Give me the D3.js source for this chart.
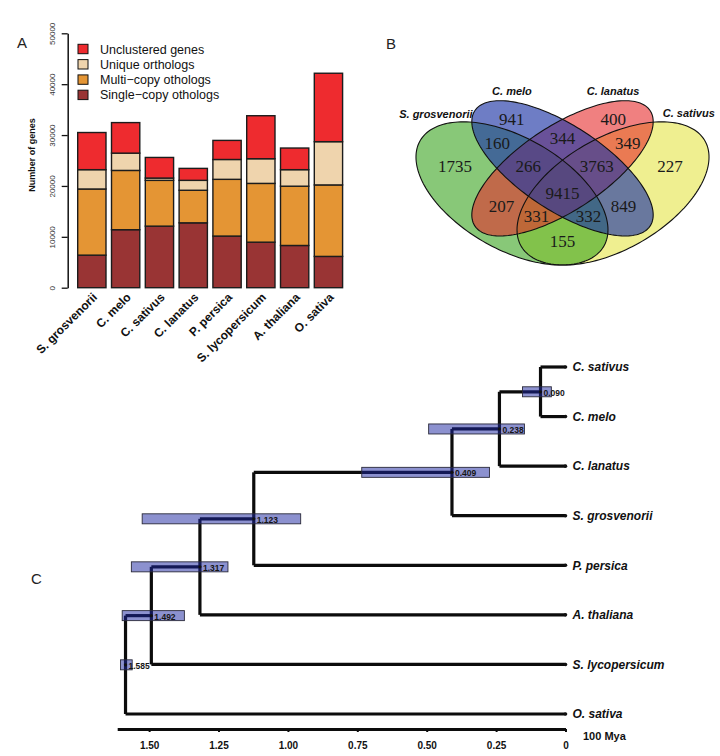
<!DOCTYPE html>
<html>
<head>
<meta charset="utf-8">
<script src="https://cdn.jsdelivr.net/npm/d3@7"></script>
<style>
body { margin: 0; background: #fff; }
svg { display: block; }
text { font-family: "Liberation Sans", Arial, sans-serif; }
</style>
</head>
<body>
<div id="mainViewDiv"></div>
<script>

// ---- panel A data ----
const species = ["S. grosvenorii", "C. melo", "C. sativus", "C. lanatus", "P. persica", "S. lycopersicum", "A. thaliana", "O. sativa"];
const singleCopy  = [6400, 11400, 12100, 12750, 10150, 8950, 8300, 6150];
const multiCopy   = [13000, 11650, 9000, 6400, 11150, 11550, 11650, 14050];
const uniqueOrth  = [3800, 3400, 450, 1950, 3900, 4850, 3250, 8500];
const unclustered = [7300, 6000, 4050, 2350, 3750, 8450, 4250, 13450];
const yTicks = [0, 10000, 20000, 30000, 40000, 50000];
const legendLabels = ["Unclustered genes", "Unique orthologs", "Multi\u2212copy othologs", "Single\u2212copy othologs"];

// ---- panel B data ----
const vennSets = ["S. grosvenorii", "C. melo", "C. lanatus", "C. sativus"];
const vennRegions = ["g", "b", "r", "y", "gb", "br", "ry", "gr", "by", "gy", "gbr", "bry", "gry", "gby", "gbry"];
const vennCounts  = [1735, 941, 400, 227, 160, 344, 349, 207, 849, 155, 266, 3763, 331, 332, 9415];

// ---- panel C data ----
const tipNames = ["C. sativus", "C. melo", "C. lanatus", "S. grosvenorii", "P. persica", "A. thaliana", "S. lycopersicum", "O. sativa"];
const nodeAges = [0.090, 0.238, 0.409, 1.123, 1.317, 1.492, 1.585];
const hpdLow   = [0.051, 0.148, 0.274, 0.954, 1.216, 1.373, 1.561];
const hpdHigh  = [0.155, 0.493, 0.734, 1.525, 1.564, 1.597, 1.603];
const ageTicks = [1.5, 1.25, 1.0, 0.75, 0.5, 0.25, 0];


let svg = d3.select("#mainViewDiv").append("svg")
            .attr("width", 720)
            .attr("height", 756);

function panelLetter(txt, x, y) {
    svg.append("text").text(txt)
       .attr("x", x).attr("y", y)
       .style("font-size", "15px")
       .attr("fill", "#222");
}

// =============== A : stacked bars ===============
function drawBars() {
    const keys = ["single", "multi", "unique", "unclustered"];
    const colors = {single: "#993434", multi: "#E49534", unique: "#EFD4AD", unclustered: "#EE2B2F"};

    let rows = species.map((s, i) => ({
        species: s, single: singleCopy[i], multi: multiCopy[i],
        unique: uniqueOrth[i], unclustered: unclustered[i]
    }));
    let stacked = d3.stack().keys(keys)(rows);

    let x = d3.scaleBand().domain(species)
              .range([74.95, 345.35])
              .paddingInner(0.163)
              .paddingOuter(0.0815);
    let y = d3.scaleLinear().domain([0, 50000]).range([287.7, 33.3]);

    let g = svg.append("g");

    g.selectAll("g.layer").data(stacked).enter()
     .append("g").attr("class", "layer")
     .attr("fill", d => colors[d.key])
     .selectAll("rect").data(d => d).enter()
     .append("rect")
     .attr("x", d => x(d.data.species))
     .attr("y", d => y(d[1]))
     .attr("width", x.bandwidth())
     .attr("height", d => y(d[0]) - y(d[1]))
     .attr("stroke", "#1c1c1c")
     .attr("stroke-width", 1.4);

    let axis = g.append("g")
                .attr("transform", "translate(67.7,0)")
                .call(d3.axisLeft(y).tickValues(yTicks).tickSize(6).tickSizeOuter(0).tickFormat(d3.format("d")));
    axis.select(".domain").attr("stroke", "#111").attr("stroke-width", 1.5);
    axis.selectAll(".tick line").attr("stroke", "#111").attr("stroke-width", 1.3);
    axis.selectAll(".tick text")
        .attr("x", 0).attr("y", 0).attr("dy", 0)
        .attr("text-anchor", "middle")
        .attr("transform", "translate(-13,0) rotate(-90)")
        .style("font-size", "8px")
        .attr("fill", "#333");

    g.append("text").text("Number of genes")
     .attr("transform", "translate(34.5,155) rotate(-90)")
     .attr("text-anchor", "middle")
     .style("font-size", "9px")
     .style("font-weight", "bold")
     .attr("fill", "#111");

    g.selectAll("text.sp").data(species).enter()
     .append("text").attr("class", "sp")
     .text(d => d)
     .attr("text-anchor", "end")
     .attr("transform", d => "translate(" + (x(d) + x.bandwidth() / 2 + 6) + ",298) rotate(-45)")
     .style("font-size", "12px")
     .style("font-weight", "bold")
     .attr("fill", "#111");

    // legend
    let legendKeys = ["unclustered", "unique", "multi", "single"];
    let leg = g.selectAll("g.leg").data(legendLabels).enter()
               .append("g").attr("class", "leg")
               .attr("transform", (d, i) => "translate(78," + (49 + i * 15.3) + ")");
    leg.append("rect")
       .attr("x", 0).attr("y", -4.7)
       .attr("width", 10).attr("height", 9.4)
       .attr("fill", (d, i) => colors[legendKeys[i]])
       .attr("stroke", "#111").attr("stroke-width", 1);
    leg.append("text").text(d => d)
       .attr("x", 22).attr("y", 4.5)
       .style("font-size", "12.5px")
       .attr("fill", "#111");

    panelLetter("A", 17, 48);
}

// =============== B : four-set Venn ===============
function drawVenn() {
    let vx = d3.scaleLinear().domain([0, 1]).range([394.1, 730.9]);
    let vy = d3.scaleLinear().domain([0, 1]).range([311.5, 60.3]);

    // ellipse layout in unit space (y up), as in VennDiagram
    let ellipses = [
        {key: "y", x: 0.65, y: 0.47, a: 0.35, b: 0.20, rot: 45,  fill: "rgb(228,228,70)",  op: 0.6},
        {key: "g", x: 0.35, y: 0.47, a: 0.35, b: 0.20, rot: -45, fill: "rgb(57,163,30)",   op: 0.6},
        {key: "r", x: 0.50, y: 0.57, a: 0.35, b: 0.15, rot: 45,  fill: "rgb(230,43,43)",   op: 0.6},
        {key: "b", x: 0.50, y: 0.57, a: 0.35, b: 0.15, rot: -45, fill: "rgb(33,55,166)",   op: 0.65}
    ];

    function ellipsePoints(e) {
        let th = e.rot * Math.PI / 180;
        return d3.range(0, 360, 2).map(deg => {
            let t = deg * Math.PI / 180;
            let u = e.x + e.a * Math.cos(t) * Math.cos(th) - e.b * Math.sin(t) * Math.sin(th);
            let v = e.y + e.a * Math.cos(t) * Math.sin(th) + e.b * Math.sin(t) * Math.cos(th);
            return [vx(u), vy(v)];
        });
    }
    let line = d3.line().curve(d3.curveLinearClosed);

    let g = svg.append("g");
    g.selectAll("path.fill").data(ellipses).enter()
     .append("path").attr("class", "fill")
     .attr("d", d => line(ellipsePoints(d)))
     .attr("fill", d => d.fill)
     .attr("fill-opacity", d => d.op)
     .attr("stroke", "none");
    g.selectAll("path.edge").data(ellipses).enter()
     .append("path").attr("class", "edge")
     .attr("d", d => line(ellipsePoints(d)))
     .attr("fill", "none")
     .attr("stroke", "#111")
     .attr("stroke-width", 1.1);

    // label spots in the same unit space
    let spot = {
        g: [0.181, 0.579], b: [0.349, 0.766], r: [0.651, 0.766], y: [0.819, 0.579],
        gb: [0.306, 0.670], br: [0.5, 0.690], ry: [0.694, 0.670],
        gr: [0.319, 0.420], by: [0.681, 0.420], gy: [0.5, 0.282],
        gbr: [0.398, 0.579], bry: [0.602, 0.579], gry: [0.423, 0.380], gby: [0.577, 0.380],
        gbry: [0.5, 0.471]
    };
    g.selectAll("text.cnt").data(vennRegions).enter()
     .append("text").attr("class", "cnt")
     .text((d, i) => vennCounts[i])
     .attr("x", d => vx(spot[d][0]))
     .attr("y", d => vy(spot[d][1]) + 6)
     .attr("text-anchor", "middle")
     .style("font-family", "'Liberation Serif', 'Times New Roman', serif")
     .style("font-size", "17px")
     .attr("fill", "#1a1a1a");

    let setLab = [
        {anchor: "end",    x: 0.233, y: 0.787},
        {anchor: "middle", x: 0.350, y: 0.876},
        {anchor: "middle", x: 0.650, y: 0.876},
        {anchor: "middle", x: 0.875, y: 0.792}
    ];
    g.selectAll("text.set").data(vennSets).enter()
     .append("text").attr("class", "set")
     .text(d => d)
     .attr("x", (d, i) => vx(setLab[i].x))
     .attr("y", (d, i) => vy(setLab[i].y) + 4)
     .attr("text-anchor", (d, i) => setLab[i].anchor)
     .style("font-size", "11px")
     .style("font-weight", "bold")
     .style("font-style", "italic")
     .attr("fill", "#111");

    panelLetter("B", 386, 49);
}

// =============== C : dated tree ===============
function drawTree() {
    // caterpillar topology: node k joins (node k-1 | first two tips) with the next tip
    let root = {name: tipNames[0]};
    let node = null;
    for (let k = 0; k < nodeAges.length; k++) {
        let left = k === 0 ? {name: tipNames[0], age: 0} : node;
        node = {age: nodeAges[k], lo: hpdLow[k], hi: hpdHigh[k],
                children: [left, {name: tipNames[k + 1], age: 0}]};
    }
    root = d3.hierarchy(node);

    let x = d3.scaleLinear().domain([0, 1.615]).range([565.5, 117.2]);
    let yTip = d3.scalePoint().domain(tipNames).range([367, 714]);

    root.eachAfter(n => {
        if (!n.children) n.yy = yTip(n.data.name);
        else n.yy = d3.mean(n.children, c => c.yy);
        n.xx = x(n.data.age);
    });

    let g = svg.append("g");
    let inner = root.descendants().filter(n => n.children);
    let edges = root.descendants().filter(n => n.parent);

    let branch = g.append("g")
                  .attr("stroke", "#0c0c0c")
                  .attr("stroke-width", 3.2)
                  .attr("fill", "none");
    branch.selectAll("path.h").data(edges).enter()
          .append("path").attr("class", "h")
          .attr("d", n => "M" + n.parent.xx + "," + n.yy + "H" + n.xx);
    branch.selectAll("path.v").data(inner).enter()
          .append("path").attr("class", "v")
          .attr("d", n => "M" + n.xx + "," + d3.min(n.children, c => c.yy) + "V" + d3.max(n.children, c => c.yy));

    g.selectAll("circle.tip").data(root.leaves()).enter()
     .append("circle").attr("class", "tip")
     .attr("cx", n => n.xx).attr("cy", n => n.yy).attr("r", 1.8)
     .attr("fill", "#111");

    // HPD bars
    g.selectAll("rect.hpd").data(inner).enter()
     .append("rect").attr("class", "hpd")
     .attr("x", n => x(n.data.hi))
     .attr("y", n => n.yy - 5)
     .attr("width", n => x(n.data.lo) - x(n.data.hi))
     .attr("height", 10)
     .attr("fill", "rgb(25,35,160)")
     .attr("fill-opacity", 0.5)
     .attr("stroke", "#2a2a3a")
     .attr("stroke-width", 0.9);

    g.selectAll("circle.node").data(inner).enter()
     .append("circle").attr("class", "node")
     .attr("cx", n => n.xx).attr("cy", n => n.yy).attr("r", 1.6)
     .attr("fill", "#111");

    g.selectAll("text.age").data(inner).enter()
     .append("text").attr("class", "age")
     .text(n => d3.format(".3f")(n.data.age))
     .attr("x", n => n.xx + 3)
     .attr("y", n => n.yy + 4)
     .style("font-size", "8.5px")
     .style("font-weight", "bold")
     .attr("fill", "#151515");

    g.selectAll("text.tipname").data(root.leaves()).enter()
     .append("text").attr("class", "tipname")
     .text(n => n.data.name)
     .attr("x", n => n.xx + 7)
     .attr("y", n => n.yy + 4.3)
     .style("font-size", "12px")
     .style("font-weight", "bold")
     .style("font-style", "italic")
     .attr("fill", "#111");

    let axis = g.append("g")
                .attr("transform", "translate(0,729)")
                .call(d3.axisBottom(x).tickValues(ageTicks).tickSize(3).tickSizeOuter(0).tickPadding(10)
                        .tickFormat(d => d === 0 ? "0" : d3.format(".2f")(d)));
    axis.select(".domain").attr("stroke", "#0c0c0c").attr("stroke-width", 3);
    axis.selectAll(".tick line").attr("stroke", "#0c0c0c").attr("stroke-width", 2);
    axis.selectAll(".tick text")
        .style("font-size", "10px")
        .style("font-weight", "bold")
        .attr("fill", "#111");

    g.append("text").text("100 Mya")
     .attr("x", 583).attr("y", 740)
     .style("font-size", "11px")
     .style("font-weight", "bold")
     .attr("fill", "#111");

    panelLetter("C", 31, 584);
}

drawBars();
drawVenn();
drawTree();

</script>
</body>
</html>
